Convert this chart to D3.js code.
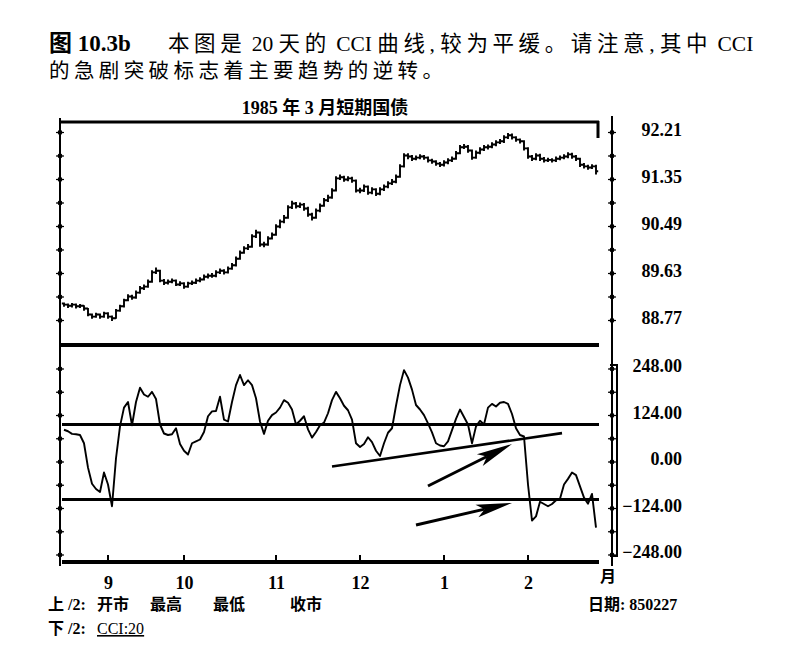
<!DOCTYPE html>
<html><head><meta charset="utf-8">
<script src="https://cdn.jsdelivr.net/npm/d3@7/dist/d3.min.js"></script>
<style>body{margin:0;background:#fff} svg{display:block}</style>
</head><body><svg id="c" width="791" height="661"></svg>
<script>
// ---- data ----
const opens=[89.08,89.06,89.04,89.06,89.03,89.04,88.99,88.88,88.84,88.88,88.84,88.90,88.84,88.81,88.95,89.03,89.14,89.21,89.19,89.28,89.36,89.39,89.48,89.65,89.68,89.50,89.46,89.48,89.50,89.43,89.45,89.39,89.45,89.46,89.50,89.52,89.57,89.59,89.59,89.65,89.68,89.65,89.72,89.78,89.90,90.01,90.09,90.12,90.31,90.38,90.16,90.16,90.27,90.34,90.49,90.58,90.65,90.84,90.91,90.86,90.89,90.82,90.71,90.65,90.78,90.87,90.97,91.02,91.15,91.37,91.39,91.35,91.37,91.33,91.15,91.15,91.22,91.11,91.17,91.09,91.17,91.22,91.28,91.31,91.40,91.59,91.79,91.77,91.73,91.75,91.77,91.75,91.70,91.68,91.64,91.62,91.66,91.70,91.73,91.83,91.94,91.95,91.88,91.75,91.84,91.90,91.94,91.95,91.99,92.03,92.05,92.12,92.16,92.12,92.08,92.05,91.92,91.77,91.73,91.79,91.73,91.70,91.71,91.70,91.73,91.75,91.77,91.81,91.77,91.73,91.62,91.59,91.57,91.59];
const highs=[89.10,89.08,89.09,89.08,89.07,89.05,89.00,88.90,88.91,88.90,88.93,88.92,88.86,88.98,89.06,89.17,89.25,89.24,89.32,89.40,89.43,89.52,89.69,89.74,89.70,89.53,89.52,89.54,89.52,89.49,89.47,89.48,89.50,89.54,89.56,89.61,89.63,89.64,89.69,89.72,89.71,89.76,89.82,89.94,90.05,90.13,90.17,90.35,90.43,90.40,90.21,90.31,90.38,90.53,90.62,90.70,90.88,90.96,90.94,90.93,90.92,90.85,90.74,90.82,90.91,91.01,91.07,91.19,91.41,91.44,91.42,91.41,91.40,91.35,91.20,91.26,91.24,91.21,91.19,91.21,91.26,91.32,91.36,91.44,91.63,91.83,91.83,91.80,91.79,91.81,91.80,91.77,91.73,91.70,91.67,91.70,91.74,91.77,91.87,91.98,92.00,91.98,91.90,91.88,91.94,91.98,91.99,92.03,92.07,92.09,92.16,92.20,92.19,92.14,92.10,92.07,91.94,91.80,91.83,91.82,91.76,91.75,91.74,91.77,91.79,91.81,91.85,91.84,91.80,91.75,91.65,91.62,91.63,91.62];
const lows=[89.02,89.00,89.01,88.99,89.00,88.95,88.85,88.80,88.82,88.80,88.82,88.80,88.76,88.80,88.93,89.01,89.12,89.15,89.17,89.26,89.33,89.37,89.46,89.62,89.47,89.42,89.43,89.45,89.40,89.40,89.35,89.37,89.42,89.44,89.47,89.50,89.54,89.55,89.56,89.62,89.61,89.63,89.70,89.76,89.88,89.99,90.06,90.10,90.28,90.12,90.11,90.14,90.25,90.32,90.46,90.55,90.63,90.81,90.82,90.83,90.78,90.67,90.60,90.63,90.75,90.85,90.94,91.00,91.13,91.34,91.31,91.32,91.29,91.11,91.10,91.12,91.07,91.08,91.05,91.06,91.14,91.19,91.25,91.28,91.38,91.57,91.72,91.69,91.70,91.72,91.71,91.66,91.64,91.60,91.58,91.59,91.63,91.67,91.71,91.81,91.91,91.84,91.71,91.73,91.81,91.87,91.90,91.92,91.96,92.00,92.02,92.09,92.08,92.04,92.01,91.88,91.73,91.69,91.70,91.69,91.66,91.67,91.66,91.67,91.70,91.72,91.74,91.73,91.69,91.58,91.55,91.53,91.54,91.44];
const closes=[89.06,89.04,89.06,89.03,89.04,88.99,88.88,88.84,88.88,88.84,88.90,88.84,88.81,88.95,89.03,89.14,89.21,89.19,89.28,89.36,89.39,89.48,89.65,89.68,89.50,89.46,89.48,89.50,89.43,89.45,89.39,89.45,89.46,89.50,89.52,89.57,89.59,89.59,89.65,89.68,89.65,89.72,89.78,89.90,90.01,90.09,90.12,90.31,90.38,90.16,90.16,90.27,90.34,90.49,90.58,90.65,90.84,90.91,90.86,90.89,90.82,90.71,90.65,90.78,90.87,90.97,91.02,91.15,91.37,91.39,91.35,91.37,91.33,91.15,91.15,91.22,91.11,91.17,91.09,91.17,91.22,91.28,91.31,91.40,91.59,91.79,91.77,91.73,91.75,91.77,91.75,91.70,91.68,91.64,91.62,91.66,91.70,91.73,91.83,91.94,91.95,91.88,91.75,91.84,91.90,91.94,91.95,91.99,92.03,92.05,92.12,92.16,92.12,92.08,92.05,91.92,91.77,91.73,91.79,91.73,91.70,91.71,91.70,91.73,91.75,91.77,91.81,91.77,91.73,91.62,91.59,91.57,91.59,91.50];
const cci=[86,82,75,74,72,50,-15,-58,-72,-80,-28,-60,-118,10,95,145,160,98,160,198,180,174,187,168,100,76,72,74,90,48,30,20,50,55,60,80,122,135,136,174,113,108,160,205,232,205,218,205,170,108,75,110,125,132,145,165,158,140,100,110,122,87,65,80,98,105,130,165,187,170,150,138,113,50,40,48,66,53,30,16,50,78,90,150,205,245,225,193,152,140,125,103,79,50,44,42,55,85,115,140,120,100,50,95,110,100,145,155,148,158,160,155,128,90,72,68,-60,-156,-145,-106,-112,-118,-112,-102,-98,-60,-45,-28,-35,-65,-95,-111,-85,-175];
const priceTicks=[92.21,91.35,90.49,89.63,88.77];
const priceMinor=[91.78,90.92,90.06,89.20];
const cciTicks=[248,124,0,-124,-248];
const cciMinor=[186,62,-62,-186];
const cciBands=[100,-100];
const monthLabels=['9','10','11','12','1','2'];
const monthIdx=[11,30,53,74,95,116];
const trendLine=[[67,-12],[124.5,77]];
const arrowLines=[[[91,-64],[112,48]],[[88,-168],[112,-109]]];

// ---- drawing ----
const svg=d3.select('#c');
const serif='"Liberation Serif","Noto Sans CJK SC",serif';
const cjk='"Noto Sans CJK SC","Liberation Serif",sans-serif';
const n=closes.length;
const x=d3.scaleLinear().domain([0,n-1]).range([64,596]);
const yP=d3.scaleLinear().domain([88.77,92.21]).range([320.5,132.5]);
const yC=d3.scaleLinear().domain([-248,248]).range([555,369]);

// captions: CJK runs get letter spacing, Latin runs none
function caption(xx,yy,parts,size){
  const t=svg.append('text').attr('x',xx).attr('y',yy).attr('font-family',serif).attr('font-size',size);
  parts.forEach(p=>t.append('tspan').attr('letter-spacing',p[1]).text(p[0]));
  return t;
}
svg.append('text').attr('x',49).attr('y',51).attr('font-family',serif).attr('font-weight','bold')
  .attr('font-size',23).text('图 10.3b');
caption(168,51,[['本图是',4.6],[' 20 ',0],['天的',4.6],[' CCI ',0],['曲线',4.6],[', ',0],['较为平缓。请注意',4.6],[', ',0],['其中',4.6],[' CCI',0]],21.5);
caption(49,78,[['的急剧突破标志着主要趋势的逆转。',4.4]],20.5);
svg.append('text').attr('x',325).attr('y',114).attr('text-anchor','middle').attr('font-family',serif)
  .attr('font-weight','bold').attr('font-size',18).text('1985 年 3 月短期国债');

const g=svg.append('g').attr('stroke','#000').attr('fill','none');
// frame lines
g.append('line').attr('x1',60).attr('x2',599).attr('y1',122).attr('y2',122).attr('stroke-width',3);
g.append('line').attr('x1',598).attr('x2',598).attr('y1',121).attr('y2',138).attr('stroke-width',3);
g.append('line').attr('x1',60).attr('x2',599).attr('y1',345).attr('y2',345).attr('stroke-width',4);
g.append('line').attr('x1',62).attr('x2',599).attr('y1',562).attr('y2',562).attr('stroke-width',4);
g.append('line').attr('x1',60).attr('x2',60).attr('y1',118).attr('y2',566).attr('stroke-width',2);
g.append('line').attr('x1',612).attr('x2',612).attr('y1',116).attr('y2',566).attr('stroke-width',2);
// right double bar in CCI panel
g.append('path').attr('d',`M610,${yC(248)-4}H617V${yC(-248)+1}H610`).attr('stroke-width',2);

// axis dots
function dots(vals,scale,xx){
  svg.append('g').selectAll('circle').data(vals).join('circle')
    .attr('cx',xx).attr('cy',d=>scale(d)).attr('r',2.4).attr('fill','#000');
  g.append('g').selectAll('line').data(vals).join('line')
    .attr('x1',xx-4).attr('x2',xx+4).attr('y1',d=>scale(d)).attr('y2',d=>scale(d)).attr('stroke-width',1.2);
}
[60,612].forEach(xx=>{dots(priceTicks.concat(priceMinor),yP,xx);dots(cciTicks.concat(cciMinor),yC,xx);});

// right axis labels via d3 axes
function rightAxis(scale,vals){
  const ax=svg.append('g').attr('transform','translate(612,0)')
    .call(d3.axisRight(scale).tickValues(vals).tickFormat(d3.format('.2f')).tickSize(0));
  ax.select('.domain').remove();
  ax.selectAll('text').attr('x',70).attr('y',-3).attr('text-anchor','end')
    .attr('font-family',serif).attr('font-weight','bold').attr('font-size',18).attr('fill','#000');
}
rightAxis(yP,priceTicks);
rightAxis(yC,cciTicks);

// month axis
const axX=svg.append('g').attr('transform','translate(0,562)')
  .call(d3.axisBottom(x).tickValues(monthIdx).tickFormat((d,i)=>monthLabels[i]).tickSize(0).tickPadding(14));
axX.select('.domain').remove();
axX.selectAll('text').attr('font-family',serif).attr('font-weight','bold').attr('font-size',18).attr('fill','#000');
g.append('g').selectAll('line').data(monthIdx).join('line')
  .attr('x1',d=>x(d)).attr('x2',d=>x(d)).attr('y1',555).attr('y2',562).attr('stroke-width',2);
svg.append('text').attr('x',608).attr('y',582).attr('text-anchor','middle').attr('font-family',cjk)
  .attr('font-weight','bold').attr('font-size',16).text('月');

// price OHLC bars
const bars=g.append('g').attr('stroke-width',1.9);
bars.selectAll('path').data(closes).join('path')
  .attr('d',(c,i)=>`M${x(i)},${yP(highs[i])}V${yP(lows[i])}M${x(i)-2.2},${yP(opens[i])}H${x(i)}M${x(i)},${yP(c)}H${x(i)+2.2}`);

// CCI bands
g.append('g').selectAll('line').data(cciBands).join('line')
  .attr('x1',62).attr('x2',599).attr('y1',d=>yC(d)).attr('y2',d=>yC(d)).attr('stroke-width',3);

// CCI line
g.append('path').datum(cci).attr('stroke-width',1.9).attr('stroke-linejoin','round')
  .attr('d',d3.line().x((d,i)=>x(i)).y(d=>yC(d)));

// trend line
g.append('line').attr('x1',x(trendLine[0][0])).attr('y1',yC(trendLine[0][1]))
  .attr('x2',x(trendLine[1][0])).attr('y2',yC(trendLine[1][1])).attr('stroke-width',2.6);

// arrows
arrowLines.forEach(a=>{
  const x0=x(a[0][0]),y0=yC(a[0][1]),x1=x(a[1][0]),y1=yC(a[1][1]);
  const L=Math.hypot(x1-x0,y1-y0),ux=(x1-x0)/L,uy=(y1-y0)/L,px=-uy,py=ux;
  const hl=36,hw=6.5,nt=28;
  g.append('line').attr('x1',x0).attr('y1',y0).attr('x2',x1-ux*nt).attr('y2',y1-uy*nt).attr('stroke-width',3);
  svg.append('path').attr('fill','#000').attr('d',
    `M${x1},${y1}L${x1-ux*hl+px*hw},${y1-uy*hl+py*hw}L${x1-ux*nt},${y1-uy*nt}L${x1-ux*hl-px*hw},${y1-uy*hl-py*hw}Z`);
});

// footer
const f1=[['上 /2:',48],['开市',97],['最高',150],['最低',213],['收市',290],['日期: 850227',588]];
svg.append('g').selectAll('text').data(f1).join('text').attr('x',d=>d[1]).attr('y',610)
  .attr('font-family',serif).attr('font-weight','bold').attr('font-size',16).text(d=>d[0]);
svg.append('text').attr('x',48).attr('y',634).attr('font-family',serif).attr('font-weight','bold')
  .attr('font-size',16).text('下 /2:');
svg.append('text').attr('x',97).attr('y',634).attr('font-family',serif).attr('font-size',16)
  .attr('text-decoration','underline').text('CCI:20');
</script></body></html>
